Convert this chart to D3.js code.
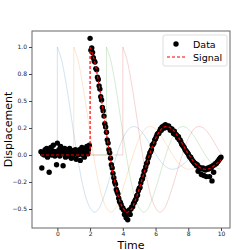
<!DOCTYPE html>
<html>
<head>
<meta charset="utf-8">
<script src="https://cdn.jsdelivr.net/npm/d3@7"></script>
<style>
body { margin: 0; background: #fff; }
text { font-family: "DejaVu Sans", sans-serif; }
</style>
</head>
<body>
<div id="chart"></div>
<script>
var width = 240;
var height = 250;

// measured samples, t = -1 .. 10 every 0.05
var dataTime = d3.range(221).map(function(i) { return -1 + i * 0.05; });
var dataValues = [
  0.03, -0.12, 0.01, 0.02, 0.00, 0.05, 0.02, 0.06, -0.02, 0.01,
  -0.16, 0.03, 0.07, 0.00, 0.04, 0.09, 0.02, -0.01, 0.03, -0.09,
  0.11, 0.01, 0.05, -0.01, 0.08, 0.02, 0.04, -0.10, 0.01, 0.06,
  -0.02, 0.03, 0.05, -0.01, 0.00, 0.06, 0.02, -0.03, 0.04, -0.02,
  0.01, 0.03, 0.05, -0.04, 0.02, 0.00, 0.04, 0.05, -0.05, 0.01,
  0.07, 0.00, 0.04, -0.02, 0.06, 0.03, 0.08, 0.01, 0.05, 0.09,
  1.08, 0.97, 0.99, 0.95, 0.90,
  0.87, 0.86, 0.80, 0.79, 0.72,
  0.70, 0.64, 0.61, 0.54, 0.51,
  0.44, 0.41, 0.36, 0.29, 0.26,
  0.21, 0.14, 0.11, 0.05, 0.02,
  -0.03, -0.09, -0.12, -0.17, -0.21,
  -0.25, -0.27, -0.32, -0.34, -0.36,
  -0.40, -0.43, -0.44, -0.46, -0.49,
  -0.49, -0.51, -0.55, -0.52, -0.58,
  -0.54, -0.60, -0.53, -0.51, -0.55,
  -0.50, -0.48, -0.48, -0.45, -0.44,
  -0.42, -0.41, -0.38, -0.37, -0.33,
  -0.31, -0.30, -0.26, -0.23, -0.22,
  -0.19, -0.15, -0.14, -0.11, -0.08,
  -0.07, -0.03, -0.01, 0.02, 0.03,
  0.05, 0.09, 0.10, 0.11, 0.14,
  0.15, 0.17, 0.19, 0.20, 0.20,
  0.22, 0.24, 0.23, 0.26, 0.25,
  0.27, 0.25, 0.28, 0.26, 0.27,
  0.26, 0.27, 0.25, 0.23, 0.24,
  0.24, 0.22, 0.20, 0.22, 0.19,
  0.19, 0.18, 0.16, 0.17, 0.14,
  0.14, 0.12, 0.10, 0.09, 0.08,
  0.07, 0.05, 0.04, 0.03, 0.02,
  0.01, -0.01, -0.02, -0.02, -0.04,
  -0.05, -0.06, -0.07, -0.08, -0.08,
  -0.10, -0.09, -0.15, -0.11, -0.12,
  -0.12, -0.18, -0.13, -0.12, -0.19,
  -0.13, -0.14, -0.20, -0.13, -0.12,
  -0.13, -0.20, -0.11, -0.12, -0.24,
  -0.10, -0.16, -0.09, -0.08, -0.08,
  -0.07, -0.06, -0.05, -0.04, -0.03,
  -0.02
];

// response after the step, every 0.25 time units after its start
var responseTau = d3.range(33).map(function(i) { return i * 0.25; });
var responseValues = [
  1.00, 0.884, 0.692, 0.455, 0.202, -0.038, -0.243, -0.397, -0.489,
  -0.530, -0.505, -0.425, -0.314, -0.189, -0.061, 0.056, 0.153,
  0.221, 0.258, 0.262, 0.241, 0.197, 0.139, 0.074, 0.010,
  -0.046, -0.091, -0.120, -0.132, -0.127, -0.108, -0.078, -0.045
];

var signalStart = 2;
var ghostStarts = [0, 1, 3, 4];
var ghostColors = ["#1f77b4", "#ff7f0e", "#2ca02c", "#d62728"];

var xTicks = [0, 2, 4, 6, 8, 10];
var yTicks = [-0.5, -0.25, 0, 0.25, 0.5, 0.75, 1.0];
var yTickLabels = ["\u22120.5", "\u22120.2", "0.0", "0.2", "0.5", "0.8", "1.0"];

var svg = d3.select("#chart").append("svg")
  .attr("width", width)
  .attr("height", height);

var plotLeft = 32, plotRight = 230, plotTop = 31, plotBottom = 228;

var x = d3.scaleLinear().domain([-1.55, 10.55]).range([plotLeft, plotRight]);
var y = d3.scaleLinear().domain([-0.676, 1.148]).range([plotBottom, plotTop]);

svg.append("clipPath").attr("id", "clip")
  .append("rect")
  .attr("x", plotLeft).attr("y", plotTop)
  .attr("width", plotRight - plotLeft).attr("height", plotBottom - plotTop);

var plot = svg.append("g").attr("clip-path", "url(#clip)");

var flatLine = d3.line()
  .x(function(d) { return x(d[0]); })
  .y(function(d) { return y(d[1]); });

var smoothLine = d3.line()
  .x(function(d) { return x(d[0]); })
  .y(function(d) { return y(d[1]); })
  .curve(d3.curveCatmullRom.alpha(0.5));

// build the step response path starting at t0
function stepPath(t0) {
  var flat = [[-1, 0], [t0, 0], [t0, responseValues[0]]];
  var pts = [];
  responseTau.forEach(function(tau, i) {
    if (t0 + tau <= 10 + 1e-9) pts.push([t0 + tau, responseValues[i]]);
  });
  return flatLine(flat) + smoothLine(pts);
}

// faint shifted copies
plot.selectAll("path.ghost")
  .data(ghostStarts)
  .enter().append("path")
  .attr("class", "ghost")
  .attr("d", function(d) { return stepPath(d); })
  .attr("fill", "none")
  .attr("stroke", function(d, i) { return ghostColors[i]; })
  .attr("stroke-opacity", 0.2)
  .attr("stroke-width", 1);

// data points
plot.selectAll("circle.data")
  .data(dataValues)
  .enter().append("circle")
  .attr("class", "data")
  .attr("cx", function(d, i) { return x(dataTime[i]); })
  .attr("cy", function(d) { return y(d); })
  .attr("r", 2.7)
  .attr("fill", "#000");

// signal
plot.append("path")
  .attr("d", stepPath(signalStart))
  .attr("fill", "none")
  .attr("stroke", "#ff0000")
  .attr("stroke-width", 1.2)
  .attr("stroke-dasharray", "3,2");

// frame
svg.append("rect")
  .attr("x", plotLeft).attr("y", plotTop)
  .attr("width", plotRight - plotLeft).attr("height", plotBottom - plotTop)
  .attr("fill", "none")
  .attr("stroke", "#666")
  .attr("stroke-width", 1);

// axes
var xAxis = svg.append("g")
  .attr("transform", "translate(0," + plotBottom + ")")
  .call(d3.axisBottom(x).tickValues(xTicks).tickSize(3).tickPadding(1)
    .tickFormat(function(d) { return d; }));

var yAxis = svg.append("g")
  .attr("transform", "translate(" + plotLeft + ",0)")
  .call(d3.axisLeft(y).tickValues(yTicks).tickSize(3).tickPadding(2)
    .tickFormat(function(d, i) { return yTickLabels[i]; }));

[xAxis, yAxis].forEach(function(g) {
  g.select(".domain").remove();
  g.selectAll(".tick line").attr("stroke", "#444");
  g.selectAll(".tick text")
    .attr("fill", "#222")
    .style("font-size", "6px")
    .style("font-family", "DejaVu Sans, sans-serif");
});

svg.append("text")
  .attr("x", (plotLeft + plotRight) / 2)
  .attr("y", 248.5)
  .attr("text-anchor", "middle")
  .attr("font-size", "11px")
  .text("Time");

svg.append("text")
  .attr("transform", "translate(12," + ((plotTop + plotBottom) / 2) + ") rotate(-90)")
  .attr("text-anchor", "middle")
  .attr("font-size", "11px")
  .text("Displacement");

// legend
var legend = svg.append("g");
legend.append("rect")
  .attr("x", 163).attr("y", 35)
  .attr("width", 64).attr("height", 31)
  .attr("rx", 2)
  .attr("fill", "#fff")
  .attr("fill-opacity", 0.8)
  .attr("stroke", "#ddd");
legend.append("circle")
  .attr("cx", 176).attr("cy", 44)
  .attr("r", 2.7)
  .attr("fill", "#000");
legend.append("line")
  .attr("x1", 167).attr("x2", 185)
  .attr("y1", 57).attr("y2", 57)
  .attr("stroke", "#ff0000")
  .attr("stroke-width", 1.2)
  .attr("stroke-dasharray", "3,2");
legend.append("text")
  .attr("x", 193).attr("y", 47.5)
  .attr("font-size", "9.5px")
  .text("Data");
legend.append("text")
  .attr("x", 193).attr("y", 60.5)
  .attr("font-size", "9.5px")
  .text("Signal");
</script>
</body>
</html>
